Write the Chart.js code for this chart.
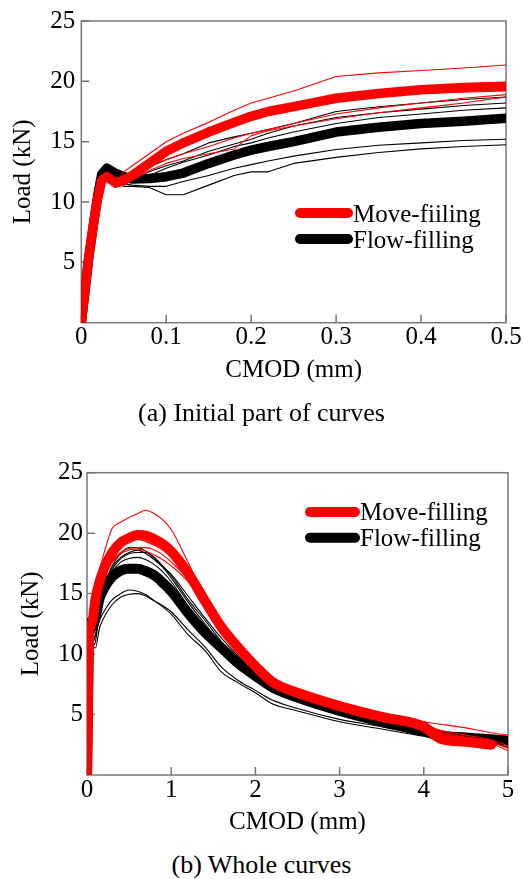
<!DOCTYPE html>
<html>
<head>
<meta charset="utf-8">
<script src="https://cdn.jsdelivr.net/npm/chart.js@4/dist/chart.umd.min.js"></script>
<style>
  html, body { margin: 0; padding: 0; background: #fff; }
  body { width: 523px; height: 879px; position: relative; overflow: hidden;
         font-family: 'Liberation Serif', 'Times New Roman', serif; }
  canvas { position: absolute; left: 0; }
  #cvA { top: 0; }
  #cvB { top: 440px; }
  .cap { position: absolute; left: 0; width: 523px; text-align: center;
         font-size: 26px; line-height: 30px; color: #000; }
  #capA { top: 398px; }
  #capB { top: 850px; }
</style>
</head>
<body>
<canvas id="cvA" width="523" height="400"></canvas>
<canvas id="cvB" width="523" height="400"></canvas>
<div class="cap" id="capA">(a) Initial part of curves</div>
<div class="cap" id="capB">(b) Whole curves</div>

<script>
// ── (a) Initial part: CMOD 0 – 0.5 mm ─────────────────────────────────────────
var A_CMOD      = [0, 0.004, 0.009, 0.014, 0.019, 0.024, 0.03, 0.04, 0.05, 0.06, 0.08, 0.1, 0.12, 0.15, 0.18, 0.2, 0.22, 0.25, 0.3, 0.35, 0.4, 0.45, 0.5];
var A_MOVE_AVG  = [0, 2.5, 5.6, 8.0, 10.2, 11.8, 12.1, 11.6, 11.8, 12.2, 13.2, 14.2, 14.9, 15.8, 16.6, 17.1, 17.5, 17.9, 18.6, 19.0, 19.3, 19.5, 19.6];
var A_MOVE_1    = [0, 2.4, 5.5, 8.0, 10.3, 11.9, 11.9, 11.2, 12.5, 13.0, 14.0, 15.0, 15.7, 16.6, 17.6, 18.2, 18.6, 19.2, 20.4, 20.7, 20.9, 21.1, 21.35];
var A_MOVE_2    = [0, 2.5, 5.6, 8.1, 10.3, 12.0, 12.1, 11.5, 11.9, 12.4, 13.2, 14.0, 14.7, 15.6, 16.4, 16.9, 17.3, 17.8, 18.4, 18.8, 19.0, 19.1, 19.2];
var A_MOVE_3    = [0, 2.4, 5.4, 7.9, 10.2, 11.8, 11.9, 11.2, 11.4, 11.8, 12.6, 13.2, 13.6, 14.0, 14.4, 15.5, 15.9, 16.3, 16.9, 17.4, 17.8, 18.2, 18.7];
var A_MOVE_4    = [0, 2.5, 5.6, 8.0, 10.2, 11.9, 12.0, 11.6, 12.0, 12.4, 13.0, 13.5, 14.0, 14.6, 15.3, 15.7, 16.0, 16.5, 17.3, 17.8, 18.2, 18.6, 18.9];
var A_FLOW_AVG  = [0, 2.4, 5.5, 8.0, 10.4, 12.3, 12.8, 12.4, 12.1, 11.9, 11.95, 12.1, 12.4, 13.2, 13.9, 14.3, 14.6, 15.0, 15.8, 16.2, 16.5, 16.7, 16.95];
var A_FLOW_1    = [0, 2.4, 5.5, 8.0, 10.4, 12.6, 13.0, 12.6, 12.0, 12.1, 12.9, 13.5, 14.0, 14.9, 15.4, 15.7, 16.0, 16.5, 17.5, 17.9, 18.2, 18.5, 18.7];
var A_FLOW_2    = [0, 2.4, 5.5, 8.0, 10.4, 12.5, 12.9, 12.5, 12.0, 11.9, 12.5, 13.0, 13.4, 14.2, 14.8, 15.2, 15.7, 16.3, 17.0, 17.4, 17.7, 18.0, 18.2];
var A_FLOW_3    = [0, 2.4, 5.5, 8.0, 10.3, 12.4, 12.8, 12.3, 11.8, 11.7, 12.2, 12.8, 13.3, 13.9, 14.6, 14.9, 15.3, 15.8, 16.5, 17.0, 17.3, 17.6, 17.8];
var A_FLOW_4    = [0, 2.4, 5.4, 7.9, 10.3, 12.2, 12.6, 12.0, 11.5, 11.4, 11.3, 11.3, 11.7, 12.2, 12.8, 13.1, 13.4, 13.8, 14.35, 14.7, 14.9, 15.1, 15.2];
var A_FLOW_5    = [0, 2.4, 5.4, 7.9, 10.3, 12.2, 12.5, 11.6, 11.3, 11.3, 11.2, 10.6, 10.6, 11.4, 12.2, 12.5, 12.5, 13.2, 13.7, 14.1, 14.4, 14.6, 14.75];
var A_X_TICKS   = [0, 0.1, 0.2, 0.3, 0.4, 0.5];
var A_Y_TICKS   = [5, 10, 15, 20, 25];

// ── (b) Whole curves: CMOD 0 – 5 mm ───────────────────────────────────────────
var B_CMOD      = [0, 0.03, 0.06, 0.1, 0.15, 0.2, 0.3, 0.4, 0.5, 0.6, 0.7, 0.8, 0.9, 1.0, 1.2, 1.4, 1.6, 1.8, 2.0, 2.2, 2.5, 3.0, 3.5, 4.0, 4.2, 4.5, 4.8, 5.0];
var B_MOVE_AVG  = [0, 12.0, 12.6, 14.5, 16.0, 17.0, 18.4, 19.2, 19.6, 19.85, 19.8, 19.5, 19.1, 18.5, 16.7, 14.4, 12.2, 10.5, 9.0, 7.7, 6.8, 5.7, 4.8, 4.0, 3.0, 2.75, 2.5, null];
var B_MOVE_1    = [0, 12.0, 12.8, 15.0, 17.0, 18.3, 20.4, 20.9, 21.3, 21.6, 21.9, 21.6, 21.1, 20.3, 17.6, 14.7, 12.4, 10.7, 9.2, 7.9, 7.0, 6.0, 5.1, 4.4, 4.2, 3.9, 3.5, 3.3];
var B_MOVE_2    = [0, 12.0, 12.4, 14.0, 15.6, 16.8, 18.1, 18.9, 19.4, 19.5, 19.3, 19.0, 18.6, 18.0, 16.4, 14.2, 12.0, 10.4, 8.9, 7.6, 6.8, 5.8, 4.9, 4.2, 3.7, 3.3, 2.9, 2.4];
var B_MOVE_3    = [0, 12.0, 12.3, 13.6, 15.3, 16.4, 17.7, 18.4, 18.75, 18.8, 18.8, 18.6, 18.2, 17.6, 16.2, 14.1, 12.0, 10.4, 8.9, 7.6, 6.7, 5.7, 4.8, 4.1, 3.6, 3.1, 2.6, 2.0];
var B_MOVE_4    = [0, 12.0, 12.2, 13.3, 15.0, 16.2, 17.6, 18.3, 18.6, 18.7, 18.5, 18.2, 17.8, 17.3, 16.0, 14.0, 12.0, 10.3, 8.8, 7.5, 6.6, 5.6, 4.7, 4.0, 3.5, 3.0, 2.7, 2.2];
var B_FLOW_AVG  = [0, 12.6, 12.3, 13.0, 14.6, 15.4, 16.4, 16.9, 17.05, 17.05, 16.85, 16.5, 15.9, 15.2, 13.4, 11.8, 10.5, 9.2, 8.2, 7.25, 6.4, 5.3, 4.4, 3.6, 3.25, 3.1, 2.95, 2.85];
var B_FLOW_1    = [0, 12.8, 11.0, 11.5, 14.0, 15.5, 17.3, 18.3, 18.8, 18.8, 18.5, 18.0, 17.3, 16.5, 14.5, 12.8, 11.0, 9.5, 8.3, 7.3, 6.4, 5.2, 4.3, 3.6, 3.4, 3.1, 2.8, 2.6];
var B_FLOW_2    = [0, 12.7, 10.6, 11.0, 13.6, 15.2, 17.0, 17.9, 18.3, 18.4, 18.4, 17.9, 17.2, 16.3, 14.3, 12.5, 10.8, 9.4, 8.2, 7.2, 6.3, 5.1, 4.2, 3.5, 3.3, 3.0, 2.7, 2.3];
var B_FLOW_3    = [0, 12.6, 11.8, 12.0, 14.0, 15.3, 16.8, 17.6, 17.9, 18.0, 17.8, 17.4, 16.8, 16.0, 14.0, 12.3, 10.7, 9.3, 8.1, 7.1, 6.2, 5.0, 4.2, 3.5, 3.3, 3.0, 2.8, 2.6];
var B_FLOW_4    = [0, 12.5, 11.4, 12.2, 14.3, 15.6, 17.2, 18.0, 18.4, 18.6, 18.3, 17.8, 17.2, 16.6, 14.8, 13.0, 11.3, 9.8, 8.5, 7.5, 6.5, 5.3, 4.5, 3.7, 3.5, 3.2, 2.9, 2.8];
var B_FLOW_5    = [0, 12.2, 11.2, 11.6, 12.8, 13.5, 14.5, 15.0, 15.3, 15.2, 14.9, 14.4, 13.9, 13.3, 11.6, 10.3, 8.5, 7.6, 6.8, 5.9, 5.3, 4.4, 3.8, 3.2, 3.0, 2.8, 2.6, 2.5];
var B_FLOW_6    = [0, 12.2, 10.8, 10.5, 12.2, 13.0, 14.1, 14.7, 14.95, 15.0, 14.8, 14.4, 14.0, 13.5, 12.0, 10.6, 8.9, 7.8, 7.0, 6.2, 5.5, 4.6, 4.0, 3.3, 3.1, 2.9, 2.7, 2.6];
var B_X_TICKS   = [0, 1, 2, 3, 4, 5];
var B_Y_TICKS   = [5, 10, 15, 20, 25];

var RED = '#ff0000';
var BLACK = '#000000';
var SERIF = "'Liberation Serif', 'Times New Roman', serif";

Chart.defaults.font.family = SERIF;
Chart.defaults.font.size = 25;
Chart.defaults.color = '#000';

// ── Helpers ──────────────────────────────────────────────────────────────────
function series(xs, ys, color, width, label) {
  return {
    label: label || '',
    inLegend: !!label,
    data: xs.map(function (x, i) { return { x: x, y: ys[i] }; }),
    borderColor: color,
    borderWidth: width,
    pointRadius: 0,
    borderCapStyle: 'round',
    borderJoinStyle: 'round',
    fill: false
  };
}

function tickList(arr) {
  return function (scale) { scale.ticks = arr.map(function (v) { return { value: v }; }); };
}

// gray box round the plot + short inward tick marks
var framePlugin = {
  id: 'frame',
  beforeDatasetsDraw: function (chart) {
    var ctx = chart.ctx, a = chart.chartArea, x = chart.scales.x, y = chart.scales.y;
    ctx.save();
    ctx.strokeStyle = '#777';
    ctx.lineWidth = 1.5;
    ctx.strokeRect(a.left, a.top, a.right - a.left, a.bottom - a.top);
    ctx.beginPath();
    x.ticks.forEach(function (t) {
      var px = x.getPixelForValue(t.value);
      ctx.moveTo(px, a.bottom); ctx.lineTo(px, a.bottom - 8);
    });
    y.ticks.forEach(function (t) {
      var py = y.getPixelForValue(t.value);
      ctx.moveTo(a.left, py); ctx.lineTo(a.left + 8, py);
    });
    ctx.stroke();
    ctx.restore();
  }
};

// legend drawn inside the plot: thick stroke + label
var legendPlugin = {
  id: 'inlineLegend',
  afterDatasetsDraw: function (chart, args, o) {
    var ctx = chart.ctx, row = 0;
    ctx.save();
    ctx.font = '25px ' + SERIF;
    ctx.textBaseline = 'middle';
    ctx.fillStyle = '#000';
    chart.data.datasets.forEach(function (ds) {
      if (!ds.inLegend) return;
      var y = o.y + row * o.rowH;
      ctx.beginPath();
      ctx.strokeStyle = ds.borderColor;
      ctx.lineWidth = 10;
      ctx.lineCap = 'round';
      ctx.moveTo(o.x, y);
      ctx.lineTo(o.x + o.len, y);
      ctx.stroke();
      ctx.fillText(ds.label, o.x + o.len + o.gap, y + o.textDy);
      row++;
    });
    ctx.restore();
  }
};

function makeChart(id, datasets, cfg) {
  return new Chart(document.getElementById(id), {
    type: 'line',
    data: { datasets: datasets },
    plugins: [framePlugin, legendPlugin],
    options: {
      responsive: false,
      animation: false,
      events: [],
      layout: { padding: cfg.padding },
      elements: { line: { tension: 0, cubicInterpolationMode: cfg.smooth ? 'monotone' : 'default' } },
      plugins: {
        legend: { display: false },
        tooltip: { enabled: false },
        inlineLegend: cfg.legend
      },
      scales: {
        x: {
          type: 'linear', min: 0, max: cfg.xMax,
          afterBuildTicks: tickList(cfg.xTicks),
          afterFit: function (s) { s.height = cfg.xAxisH; },
          grid: { display: false, drawTicks: false },
          border: { display: false },
          ticks: { padding: 0, color: '#000', maxRotation: 0,
                   callback: function (v) { return String(v); } },
          title: { display: true, text: 'CMOD (mm)', color: '#000',
                   padding: { top: 0, bottom: cfg.xTitlePad } }
        },
        y: {
          type: 'linear', min: 0, max: 25,
          afterBuildTicks: tickList(cfg.yTicks),
          afterFit: function (s) { s.width = cfg.yAxisW; },
          grid: { display: false, drawTicks: false },
          border: { display: false },
          ticks: { padding: cfg.yTickPad, color: '#000',
                   callback: function (v) { return String(v); } },
          title: { display: true, text: 'Load (kN)', color: '#000',
                   padding: { top: cfg.yTitlePad, bottom: 0 } }
        }
      }
    }
  });
}

// ── Chart (a) ────────────────────────────────────────────────────────────────
makeChart('cvA', [
  series(A_CMOD, A_MOVE_AVG, RED, 9.5, 'Move-fiiling'),
  series(A_CMOD, A_MOVE_1, RED, 1.1),
  series(A_CMOD, A_MOVE_2, RED, 1.1),
  series(A_CMOD, A_MOVE_3, RED, 1.1),
  series(A_CMOD, A_MOVE_4, RED, 1.1),
  series(A_CMOD, A_FLOW_AVG, BLACK, 9.5, 'Flow-filling'),
  series(A_CMOD, A_FLOW_1, BLACK, 1.1),
  series(A_CMOD, A_FLOW_2, BLACK, 1.1),
  series(A_CMOD, A_FLOW_3, BLACK, 1.1),
  series(A_CMOD, A_FLOW_4, BLACK, 1.1),
  series(A_CMOD, A_FLOW_5, BLACK, 1.1)
], {
  padding: { top: 19, right: 17, left: 0, bottom: 0 },
  xMax: 0.5, xTicks: A_X_TICKS, yTicks: A_Y_TICKS,
  xAxisH: 77.3, yAxisW: 81.3, xTitlePad: 15, yTitlePad: 8, yTickPad: 6,
  smooth: false,
  legend: { x: 300, y: 213, len: 48, gap: 5, rowH: 26, textDy: 2 }
});

// ── Chart (b) ────────────────────────────────────────────────────────────────
makeChart('cvB', [
  series(B_CMOD, B_MOVE_AVG, RED, 10, 'Move-filling'),
  series(B_CMOD, B_MOVE_1, RED, 1.1),
  series(B_CMOD, B_MOVE_2, RED, 1.1),
  series(B_CMOD, B_MOVE_3, RED, 1.1),
  series(B_CMOD, B_MOVE_4, RED, 1.1),
  series(B_CMOD, B_FLOW_AVG, BLACK, 10, 'Flow-filling'),
  series(B_CMOD, B_FLOW_1, BLACK, 1.1),
  series(B_CMOD, B_FLOW_2, BLACK, 1.1),
  series(B_CMOD, B_FLOW_3, BLACK, 1.1),
  series(B_CMOD, B_FLOW_4, BLACK, 1.1),
  series(B_CMOD, B_FLOW_5, BLACK, 1.1),
  series(B_CMOD, B_FLOW_6, BLACK, 1.1)
], {
  padding: { top: 32.7, right: 15, left: 0, bottom: 0 },
  xMax: 5, xTicks: B_X_TICKS, yTicks: B_Y_TICKS,
  xAxisH: 65, yAxisW: 87, xTitlePad: 2.3, yTitlePad: 16, yTickPad: 4,
  smooth: true,
  legend: { x: 310, y: 72, len: 45, gap: 5, rowH: 25.7, textDy: 1.5 }
});
</script>
</body>
</html>
